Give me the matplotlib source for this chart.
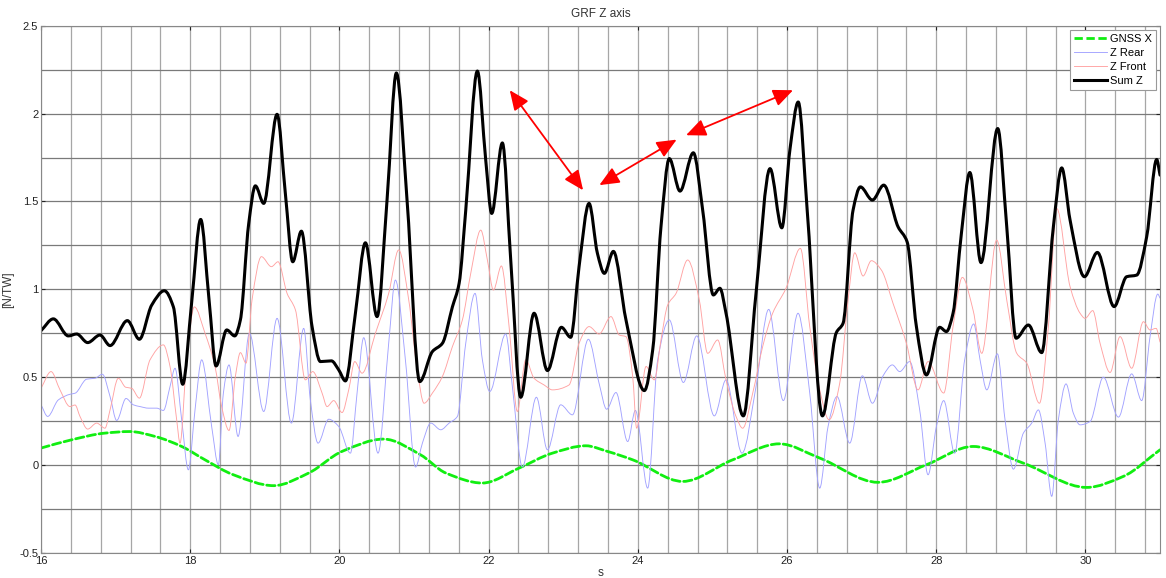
import numpy as np
import matplotlib
matplotlib.use('Agg')
import matplotlib.pyplot as plt
from matplotlib.ticker import MultipleLocator
from matplotlib.path import Path
from matplotlib.patches import PathPatch
from matplotlib.lines import Line2D

plt.rcParams['font.family'] = ['Liberation Sans', 'DejaVu Sans']

# Sum Z (black)
t_sum = [16.0, 16.165, 16.366, 16.478, 16.625, 16.79, 16.925, 17.157, 17.318, 17.483,
         17.653, 17.774, 17.899, 18.02, 18.14, 18.25, 18.346, 18.489, 18.596, 18.672,
         18.784, 18.873, 18.985, 19.164, 19.275, 19.374, 19.49, 19.633, 19.745, 19.892,
         19.99, 20.08, 20.214, 20.348, 20.504, 20.638, 20.763, 20.906, 21.076, 21.246,
         21.38, 21.514, 21.604, 21.693, 21.849, 21.961, 22.041, 22.184, 22.296, 22.43,
         22.609, 22.788, 22.975, 23.10, 23.212, 23.346, 23.458, 23.551, 23.672, 23.841,
         24.087, 24.199, 24.31, 24.422, 24.565, 24.744, 24.869, 25.012, 25.10, 25.182,
         25.414, 25.584, 25.772, 25.93, 26.04, 26.15, 26.27, 26.474, 26.661, 26.751,
         26.885, 26.983, 27.144, 27.296, 27.488, 27.609, 27.734, 27.868, 28.046, 28.136,
         28.225, 28.337, 28.45, 28.60, 28.824, 28.945, 29.07, 29.235, 29.414, 29.57,
         29.682, 29.794, 29.986, 30.16, 30.384, 30.553, 30.687, 30.821, 30.955, 31.0]
sum_z = [0.765, 0.832, 0.735, 0.746, 0.697, 0.74, 0.68, 0.822, 0.716, 0.91,
         0.992, 0.90, 0.46, 0.93, 1.398, 0.95, 0.564, 0.769, 0.735, 0.826,
         1.375, 1.589, 1.489, 1.996, 1.545, 1.157, 1.331, 0.788, 0.589, 0.593,
         0.542, 0.479, 0.864, 1.265, 0.845, 1.508, 2.231, 1.508, 0.475, 0.646,
         0.693, 0.90, 1.034, 1.45, 2.242, 1.735, 1.432, 1.833, 1.167, 0.386,
         0.864, 0.538, 0.784, 0.727, 1.129, 1.489, 1.205, 1.091, 1.216, 0.826,
         0.424, 0.655, 1.356, 1.744, 1.559, 1.777, 1.451, 0.968, 1.006, 0.864,
         0.28, 0.977, 1.687, 1.35, 1.80, 2.066, 1.45, 0.28, 0.754, 0.807,
         1.451, 1.583, 1.508, 1.593, 1.356, 1.271, 0.788, 0.513, 0.784, 0.76,
         0.864, 1.318, 1.665, 1.152, 1.915, 1.356, 0.722, 0.797, 0.64, 1.356,
         1.691, 1.394, 1.072, 1.21, 0.902, 1.072, 1.081, 1.30, 1.739, 1.65]

# Z Front (red)
t_front = [16.0, 16.134, 16.254, 16.388, 16.456, 16.523, 16.625, 16.746, 16.857, 16.925,
           17.036, 17.135, 17.215, 17.318, 17.461, 17.64, 17.729, 17.818, 17.863, 17.952,
           18.055, 18.198, 18.332, 18.421, 18.52, 18.605, 18.672, 18.748, 18.828, 18.954,
           19.088, 19.177, 19.298, 19.41, 19.543, 19.642, 19.767, 19.834, 19.923, 20.035,
           20.124, 20.205, 20.303, 20.482, 20.66, 20.794, 20.929, 21.04, 21.134, 21.246,
           21.38, 21.514, 21.648, 21.76, 21.894, 21.983, 22.064, 22.171, 22.274, 22.385,
           22.497, 22.609, 22.743, 22.855, 23.078, 23.212, 23.346, 23.48, 23.64, 23.752,
           23.841, 23.931, 23.984, 24.11, 24.221, 24.31, 24.40, 24.512, 24.668, 24.824,
           24.936, 25.07, 25.182, 25.316, 25.405, 25.54, 25.673, 25.807, 25.986, 26.179,
           26.304, 26.438, 26.563, 26.706, 26.818, 26.907, 27.019, 27.13, 27.264, 27.421,
           27.6, 27.756, 27.89, 28.1, 28.225, 28.35, 28.493, 28.61, 28.81, 28.945,
           29.079, 29.213, 29.383, 29.503, 29.615, 29.794, 29.928, 29.995, 30.098, 30.196,
           30.33, 30.464, 30.62, 30.777, 30.866, 30.947, 31.0]
z_front = [0.437, 0.532, 0.428, 0.333, 0.342, 0.276, 0.205, 0.239, 0.21, 0.314,
           0.494, 0.443, 0.437, 0.381, 0.599, 0.684, 0.561, 0.258, 0.125, 0.599,
           0.90, 0.75, 0.561, 0.333, 0.197, 0.504, 0.64, 0.58, 0.939, 1.186,
           1.129, 1.157, 0.977, 0.883, 0.485, 0.532, 0.41, 0.333, 0.367, 0.299,
           0.428, 0.589, 0.523, 0.75, 0.977, 1.224, 0.939, 0.55, 0.352, 0.41,
           0.504, 0.674, 0.826, 1.091, 1.337, 1.167, 0.996, 1.133, 0.788, 0.305,
           0.599, 0.494, 0.456, 0.428, 0.456, 0.693, 0.788, 0.746, 0.845, 0.74,
           0.731, 0.504, 0.21, 0.561, 0.485, 0.712, 0.911, 0.977, 1.167, 0.939,
           0.636, 0.712, 0.485, 0.277, 0.21, 0.41, 0.674, 0.864, 1.006, 1.233,
           0.788, 0.428, 0.258, 0.466, 0.939, 1.208, 1.076, 1.163, 1.11, 0.92,
           0.693, 0.428, 0.589, 0.41, 0.788, 1.068, 0.883, 0.636, 1.28, 0.939,
           0.636, 0.58, 0.352, 0.788, 1.46, 1.015, 0.864, 0.835, 0.879, 0.693,
           0.527, 0.731, 0.551, 0.816, 0.769, 0.778, 0.70]

# Z Rear (blue)
t_rear = [16.0, 16.089, 16.232, 16.388, 16.456, 16.612, 16.724, 16.822, 16.925, 17.014,
          17.139, 17.237, 17.327, 17.439, 17.55, 17.64, 17.729, 17.796, 17.885, 17.975,
          18.064, 18.153, 18.287, 18.377, 18.444, 18.52, 18.641, 18.793, 18.985, 19.164,
          19.356, 19.521, 19.61, 19.713, 19.856, 19.99, 20.147, 20.236, 20.325, 20.517,
          20.66, 20.75, 20.884, 21.02, 21.112, 21.224, 21.358, 21.47, 21.581, 21.693,
          21.818, 21.916, 22.015, 22.229, 22.318, 22.452, 22.64, 22.788, 22.966, 23.123,
          23.337, 23.48, 23.582, 23.707, 23.864, 23.967, 24.132, 24.266, 24.422, 24.61,
          24.789, 25.025, 25.182, 25.396, 25.584, 25.754, 25.95, 26.147, 26.304, 26.438,
          26.55, 26.67, 26.84, 27.01, 27.144, 27.287, 27.412, 27.51, 27.644, 27.778,
          27.89, 28.002, 28.1, 28.247, 28.381, 28.502, 28.587, 28.677, 28.82, 28.922,
          29.034, 29.168, 29.28, 29.369, 29.459, 29.548, 29.637, 29.74, 29.838, 29.928,
          30.062, 30.24, 30.442, 30.62, 30.754, 30.866, 30.969, 31.0]
z_rear = [0.343, 0.277, 0.371, 0.403, 0.409, 0.489, 0.494, 0.517, 0.39, 0.254,
          0.379, 0.343, 0.333, 0.324, 0.324, 0.311, 0.447, 0.551, 0.258, -0.027,
          0.314, 0.599, 0.22, 0.002, 0.409, 0.57, 0.163, 0.75, 0.305, 0.835,
          0.239, 0.778, 0.371, 0.125, 0.261, 0.22, 0.068, 0.409, 0.725, 0.068,
          0.693, 1.053, 0.599, -0.011, 0.125, 0.239, 0.201, 0.239, 0.277, 0.693,
          0.977, 0.599, 0.419, 0.746, 0.447, -0.011, 0.386, 0.087, 0.343, 0.286,
          0.716, 0.466, 0.318, 0.413, 0.134, 0.311, -0.131, 0.599, 0.826, 0.47,
          0.735, 0.28, 0.485, 0.068, 0.447, 0.886, 0.367, 0.864, 0.41, -0.131,
          0.22, 0.39, 0.125, 0.508, 0.352, 0.508, 0.57, 0.532, 0.589, 0.314,
          -0.055, 0.22, 0.367, 0.068, 0.599, 0.803, 0.599, 0.428, 0.633, 0.258,
          -0.023, 0.182, 0.239, 0.314, 0.125, -0.178, 0.258, 0.462, 0.295, 0.229,
          0.248, 0.5, 0.273, 0.519, 0.367, 0.731, 0.973, 0.95]

# GNSS X (green dashed)
t_gnss = [16.0, 16.41, 16.857, 17.19, 17.528, 17.885, 18.198, 18.578, 19.119, 19.588,
          20.035, 20.593, 21.085, 21.425, 21.916, 22.408, 22.855, 23.301, 23.592, 23.931,
          24.601, 25.271, 25.897, 26.438, 27.22, 27.868, 28.493, 29.168, 30.017, 30.509, 31.0]
gnss_x = [0.097, 0.144, 0.182, 0.191, 0.163, 0.106, 0.03, -0.055, -0.117, -0.045,
          0.078, 0.148, 0.059, -0.045, -0.102, -0.017, 0.068, 0.11, 0.078, 0.03,
          -0.093, 0.03, 0.121, 0.04, -0.098, 0.002, 0.106, 0.011, -0.127, -0.064, 0.087]

# red double arrows (start, end)
arrows = [((22.283, 2.133), (23.266, 1.564)),
          ((23.484, 1.593), (24.52, 1.852)),
          ((24.646, 1.877), (26.08, 2.133))]


def smooth_path(x, y):
    # monotone cubic (Fritsch-Carlson) bezier through the read points
    x = np.asarray(x, float)
    y = np.asarray(y, float)
    h = np.diff(x)
    s = np.diff(y) / h
    d = np.zeros_like(y)
    d[0], d[-1] = s[0], s[-1]
    for i in range(1, len(y) - 1):
        if s[i - 1] * s[i] > 0:
            w1 = 2 * h[i] + h[i - 1]
            w2 = h[i] + 2 * h[i - 1]
            d[i] = (w1 + w2) / (w1 / s[i - 1] + w2 / s[i])
    verts = [(x[0], y[0])]
    codes = [Path.MOVETO]
    for i in range(len(h)):
        verts += [(x[i] + h[i] / 3, y[i] + d[i] * h[i] / 3),
                  (x[i + 1] - h[i] / 3, y[i + 1] - d[i + 1] * h[i] / 3),
                  (x[i + 1], y[i + 1])]
        codes += [Path.CURVE4] * 3
    return Path(verts, codes)


fig = plt.figure(figsize=(11.66, 5.78), dpi=100)
ax = fig.add_axes([0.0352, 0.0433, 0.9597, 0.9122])

series = [
    (t_gnss, gnss_x, dict(color='#11ee11', lw=2.0, linestyle=(0, (3, 1.3))), 'GNSS X'),
    (t_rear, z_rear, dict(color='#a2a2ff', lw=0.65, linestyle='-'), 'Z Rear'),
    (t_front, z_front, dict(color='#ffa2a2', lw=0.65, linestyle='-'), 'Z Front'),
    (t_sum, sum_z, dict(color='black', lw=2.2, linestyle='-'), 'Sum Z'),
]
handles = []
for tx, vy, st, name in series:
    ax.add_patch(PathPatch(smooth_path(tx, vy), fill=False, edgecolor=st['color'],
                           lw=st['lw'], linestyle=st['linestyle'], capstyle='round',
                           joinstyle='round'))
    handles.append(Line2D([], [], color=st['color'], lw=st['lw'], linestyle=st['linestyle'],
                          label=name))

for a, b in arrows:
    ax.annotate('', xy=b, xytext=a,
                arrowprops=dict(arrowstyle='<|-|>,head_length=0.8,head_width=0.35',
                                color='red', lw=1.3, mutation_scale=15,
                                shrinkA=0, shrinkB=0))

ax.set_xlim(16, 31)
ax.set_ylim(-0.5, 2.5)
ax.set_xticks(np.arange(16, 31, 2))
ax.set_yticks(np.arange(-0.5, 2.51, 0.5))
ax.set_yticklabels(['-0.5', '0', '0.5', '1', '1.5', '2', '2.5'])
ax.xaxis.set_minor_locator(MultipleLocator(0.4))
ax.yaxis.set_minor_locator(MultipleLocator(0.25))
ax.grid(True, axis='x', which='both', color='#a6a6a6', lw=0.9)
ax.grid(True, axis='y', which='both', color='#7a7a7a', lw=0.9)
ax.set_axisbelow(True)
ax.tick_params(which='major', direction='in', length=3, top=True, right=True,
               labelsize=8, colors='#222222', pad=2)
ax.tick_params(which='minor', length=0)
for s in ax.spines.values():
    s.set_color('#888888')
    s.set_linewidth(0.8)

ax.set_title('GRF Z axis', fontsize=8.5, color='#333333', pad=6)
ax.set_xlabel('s', fontsize=8.5, color='#333333', labelpad=1)
ax.set_ylabel('[N/TW]', fontsize=8.5, color='#333333', labelpad=4)

leg = ax.legend(handles=handles, loc='upper right', fontsize=8, frameon=True, fancybox=False,
                handlelength=2.9, handletextpad=0.3, labelspacing=0.35,
                borderpad=0.4, borderaxespad=0.35, framealpha=1)
leg.get_frame().set_edgecolor('#999999')
leg.get_frame().set_linewidth(0.8)

fig.savefig('out.png', dpi=100)
